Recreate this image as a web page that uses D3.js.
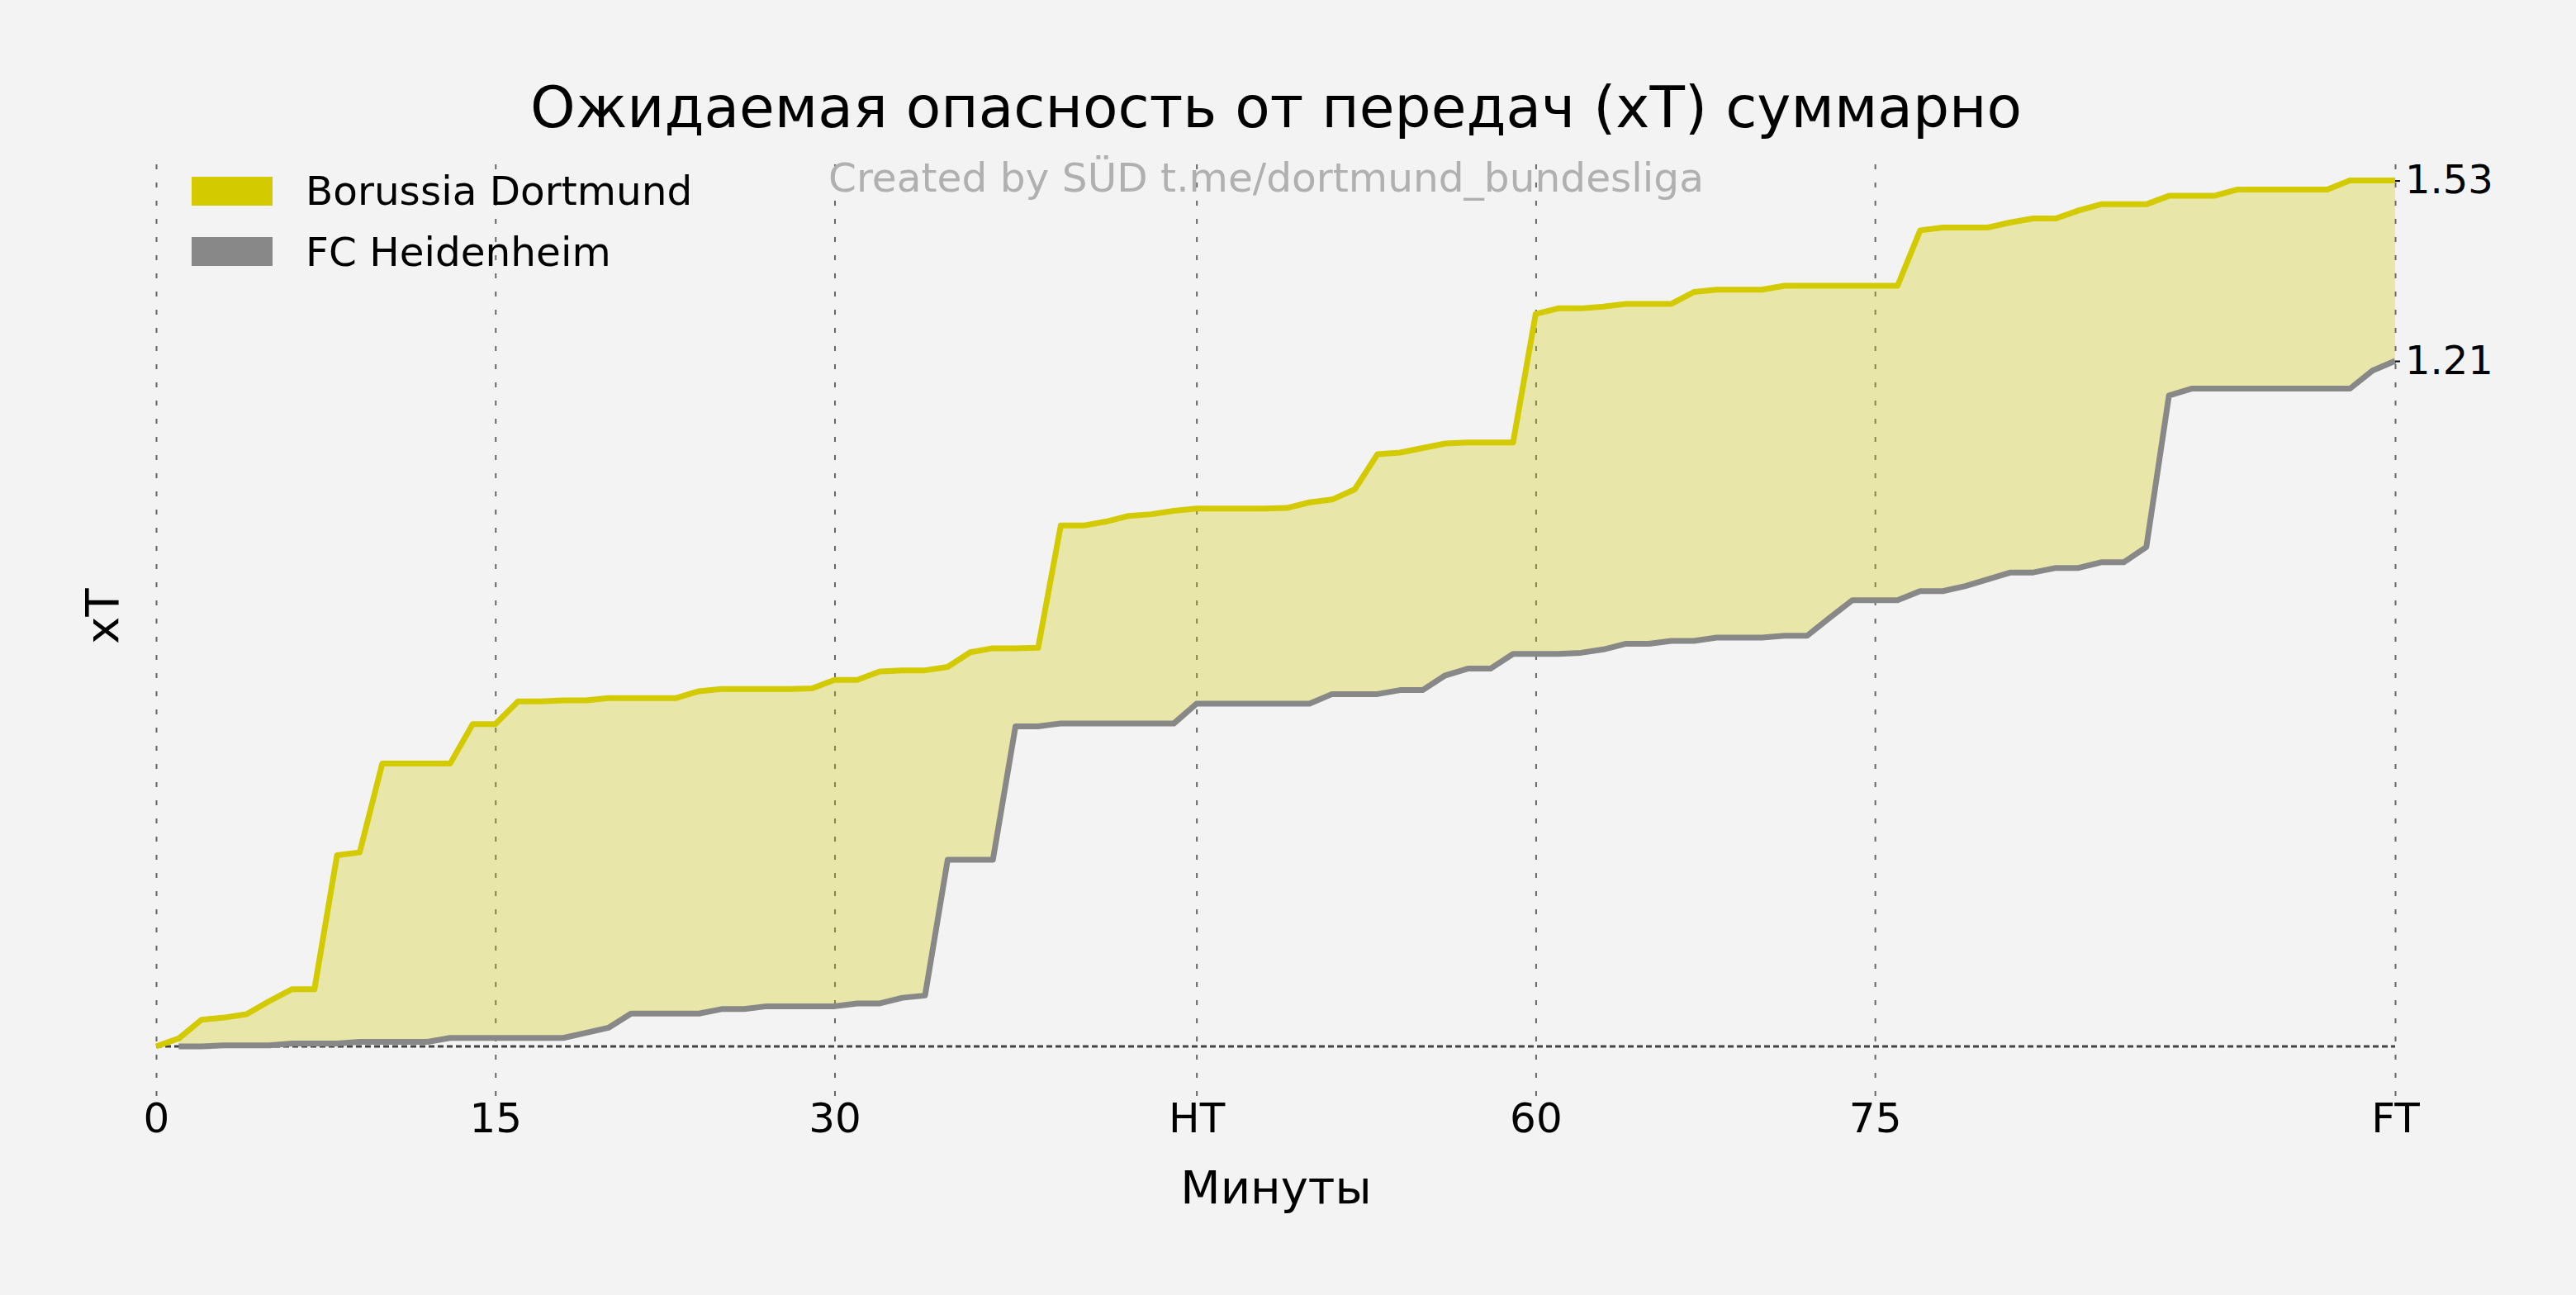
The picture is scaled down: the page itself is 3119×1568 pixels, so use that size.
<!DOCTYPE html>
<html>
<head>
<meta charset="utf-8">
<script src="https://cdn.jsdelivr.net/npm/d3@7"></script>
<style>
  html, body { margin: 0; padding: 0; background: #f3f3f3; }
  svg { display: block; font-family: "DejaVu Sans", sans-serif; }
</style>
</head>
<body>
<div id="chart"></div>
<script>
// match minutes (first half has one added minute, so HT sits at 46)
var minutes = [0, 1, 2, 3, 4, 5, 6, 7, 8, 9, 10, 11, 12, 13, 14, 15, 16, 17, 18, 19,
  20, 21, 22, 23, 24, 25, 26, 27, 28, 29, 30, 31, 32, 33, 34, 35, 36, 37, 38, 39,
  40, 41, 42, 43, 44, 45, 46, 47, 48, 49, 50, 51, 52, 53, 54, 55, 56, 57, 58, 59,
  60, 61, 62, 63, 64, 65, 66, 67, 68, 69, 70, 71, 72, 73, 74, 75, 76, 77, 78, 79,
  80, 81, 82, 83, 84, 85, 86, 87, 88, 89, 90, 91, 92, 93, 94, 95, 96, 97, 98, 99]

// cumulative xT, Borussia Dortmund (minute 0..99)
var bvbXT = [0.000, 0.014, 0.047, 0.051, 0.057, 0.080, 0.101, 0.101, 0.338, 0.343,
  0.500, 0.500, 0.500, 0.500, 0.570, 0.570, 0.610, 0.610, 0.612, 0.612,
  0.616, 0.616, 0.616, 0.616, 0.628, 0.632, 0.632, 0.632, 0.632, 0.633,
  0.648, 0.648, 0.663, 0.665, 0.665, 0.671, 0.697, 0.704, 0.704, 0.705,
  0.921, 0.921, 0.928, 0.938, 0.941, 0.947, 0.951, 0.951, 0.951, 0.951,
  0.952, 0.962, 0.967, 0.985, 1.047, 1.050, 1.058, 1.066, 1.068, 1.068,
  1.068, 1.295, 1.305, 1.305, 1.308, 1.313, 1.313, 1.313, 1.334, 1.338,
  1.338, 1.338, 1.345, 1.345, 1.345, 1.345, 1.345, 1.345, 1.443, 1.448,
  1.448, 1.448, 1.457, 1.464, 1.464, 1.478, 1.489, 1.489, 1.489, 1.504,
  1.504, 1.504, 1.515, 1.515, 1.515, 1.515, 1.515, 1.531, 1.531, 1.531]

// cumulative xT, FC Heidenheim (minute 1..99, no value at 0)
var fchXT = [null, 0.000, 0.000, 0.002, 0.002, 0.002, 0.005, 0.005, 0.005, 0.008,
  0.008, 0.008, 0.008, 0.015, 0.015, 0.015, 0.015, 0.015, 0.015, 0.024,
  0.033, 0.058, 0.058, 0.058, 0.058, 0.066, 0.066, 0.071, 0.071, 0.071,
  0.071, 0.076, 0.076, 0.086, 0.090, 0.330, 0.330, 0.330, 0.566, 0.566,
  0.571, 0.571, 0.571, 0.571, 0.571, 0.571, 0.606, 0.606, 0.606, 0.606,
  0.606, 0.606, 0.623, 0.623, 0.623, 0.630, 0.630, 0.656, 0.668, 0.668,
  0.694, 0.694, 0.694, 0.696, 0.702, 0.712, 0.712, 0.717, 0.717, 0.723,
  0.723, 0.723, 0.726, 0.726, 0.758, 0.789, 0.789, 0.789, 0.805, 0.805,
  0.814, 0.826, 0.838, 0.838, 0.846, 0.846, 0.856, 0.856, 0.883, 1.151,
  1.163, 1.163, 1.163, 1.163, 1.163, 1.163, 1.163, 1.163, 1.195, 1.212]

var teams = ["Borussia Dortmund", "FC Heidenheim"]
var tickMinutes = [0, 15, 30, 46, 61, 76, 99]
var tickLabels = ["0", "15", "30", "HT", "60", "75", "FT"]

var width = 3119
var height = 1568
var yellow = "#d3ca00"
var grey = "#888888"

var svg = d3.select("#chart")
	.append("svg")
	.attr("width", width)
	.attr("height", height);

svg.append("rect")
	.attr("width", width)
	.attr("height", height)
	.attr("fill", "#f3f3f3");

var x = d3.scaleLinear().domain([0, 99]).range([189, 2900]);
var y = d3.scaleLinear().domain([-0.0876, 1.583]).range([1327, 183]);

var rows = minutes.map(function (m, i) {
	return { m: m, bvb: bvbXT[i], fch: fchXT[i] };
});

// vertical grid via the x axis ticks
var xAxis = svg.append("g")
	.attr("transform", "translate(0,1327)")
	.call(d3.axisBottom(x)
		.tickValues(tickMinutes)
		.tickFormat(function (d, i) { return tickLabels[i]; })
		.tickSize(-(1327 - 183))
		.tickPadding(8));
xAxis.select(".domain").remove();
xAxis.selectAll("line")
	.attr("stroke", "#666")
	.attr("stroke-width", 2)
	.attr("stroke-dasharray", "6,16");
xAxis.selectAll("text")
	.attr("font-size", 50)
	.attr("font-family", "DejaVu Sans")
	.attr("fill", "#000");

// shaded area between the two teams
var area = d3.area()
	.defined(function (d) { return d.fch !== null; })
	.x(function (d) { return x(d.m); })
	.y0(function (d) { return y(d.fch); })
	.y1(function (d) { return y(d.bvb); });

svg.append("path")
	.datum(rows)
	.attr("d", area)
	.attr("fill", yellow)
	.attr("fill-opacity", 0.3);

// zero line
svg.append("line")
	.attr("x1", x(0))
	.attr("x2", x(99))
	.attr("y1", y(0))
	.attr("y2", y(0))
	.attr("stroke", "#444")
	.attr("stroke-width", 3)
	.attr("stroke-dasharray", "7,4");

var lineBvb = d3.line()
	.x(function (d) { return x(d.m); })
	.y(function (d) { return y(d.bvb); });

var lineFch = d3.line()
	.defined(function (d) { return d.fch !== null; })
	.x(function (d) { return x(d.m); })
	.y(function (d) { return y(d.fch); });

svg.append("path")
	.datum(rows)
	.attr("d", lineBvb)
	.attr("fill", "none")
	.attr("stroke", yellow)
	.attr("stroke-width", 7)
	.attr("stroke-linejoin", "round");

svg.append("path")
	.datum(rows)
	.attr("d", lineFch)
	.attr("fill", "none")
	.attr("stroke", grey)
	.attr("stroke-width", 7)
	.attr("stroke-linejoin", "round");

// final totals on the right
var yRight = svg.append("g")
	.attr("transform", "translate(2900,0)")
	.call(d3.axisRight(y)
		.tickValues([bvbXT[bvbXT.length - 1], fchXT[fchXT.length - 1]])
		.tickFormat(d3.format(".2f"))
		.tickSize(6)
		.tickPadding(6));
yRight.select(".domain").remove();
yRight.selectAll("line").attr("stroke", "#000").attr("stroke-width", 2);
yRight.selectAll("text")
	.attr("font-size", 48)
	.attr("font-family", "DejaVu Sans")
	.attr("fill", "#000");

// titles
svg.append("text")
	.attr("x", 1545)
	.attr("y", 154)
	.attr("text-anchor", "middle")
	.attr("font-size", 69.5)
	.attr("fill", "#000")
	.text("Ожидаемая опасность от передач (xT) суммарно");

svg.append("text")
	.attr("x", 1003)
	.attr("y", 232)
	.attr("font-size", 48.6)
	.attr("fill", "#b0b0b0")
	.text("Created by SÜD t.me/dortmund_bundesliga");

svg.append("text")
	.attr("x", 1545)
	.attr("y", 1457)
	.attr("text-anchor", "middle")
	.attr("font-size", 56)
	.attr("fill", "#000")
	.text("Минуты");

svg.append("text")
	.attr("transform", "translate(143,746) rotate(-90)")
	.attr("text-anchor", "middle")
	.attr("font-size", 56)
	.attr("fill", "#000")
	.text("xT");

// legend
var legend = svg.append("g");
teams.forEach(function (t, i) {
	legend.append("rect")
		.attr("x", 232)
		.attr("y", 214 + i * 73)
		.attr("width", 98)
		.attr("height", 35)
		.attr("fill", i === 0 ? yellow : grey);
	legend.append("text")
		.attr("x", 370)
		.attr("y", 248 + i * 74)
		.attr("font-size", 48.5)
		.attr("fill", "#000")
		.text(t);
});
</script>
</body>
</html>
